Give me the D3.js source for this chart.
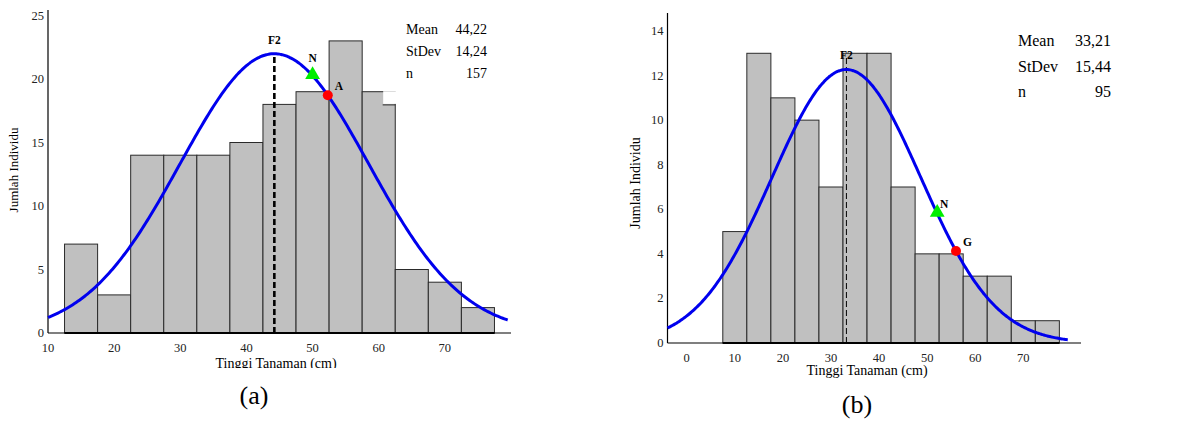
<!DOCTYPE html>
<html>
<head>
<meta charset="utf-8">
<script src="https://cdn.jsdelivr.net/npm/d3@7"></script>
<style>
  body { margin: 0; background: #fff; }
  svg { display: block; font-family: "Liberation Serif", "Times New Roman", serif; }
</style>
</head>
<body>
<svg id="chart" width="1192" height="422"></svg>
<script>
// panel (a)
var binsA = [15, 20, 25, 30, 35, 40, 45, 50, 55, 60, 65, 70, 75];
var countsA = [7, 3, 14, 14, 14, 15, 18, 19, 23, 19, 5, 4, 2];
var xTicksA = [10, 20, 30, 40, 50, 60, 70];
var yTicksA = [0, 5, 10, 15, 20, 25];
var statsA = [['Mean', '44,22'], ['StDev', '14,24'], ['n', '157']];
var markersA = [{ label: 'N', x: 50, shape: 'triangle' }, { label: 'A', x: 52.3, shape: 'circle' }];

// panel (b)
var binsB = [10, 15, 20, 25, 30, 35, 40, 45, 50, 55, 60, 65, 70, 75];
var countsB = [5, 13, 11, 10, 7, 13, 13, 7, 4, 4, 3, 3, 1, 1];
var xTicksB = [0, 10, 20, 30, 40, 50, 60, 70];
var yTicksB = [0, 2, 4, 6, 8, 10, 12, 14];
var statsB = [['Mean', '33,21'], ['StDev', '15,44'], ['n', '95']];
var markersB = [{ label: 'N', x: 52.1, shape: 'triangle' }, { label: 'G', x: 56, shape: 'circle' }];

var svg = d3.select('#chart');

function normal(x, mean, sd, n, w) {
    return n * w / (sd * Math.sqrt(2 * Math.PI)) * Math.exp(-(x - mean) * (x - mean) / (2 * sd * sd));
}

function drawPanel(p) {
    var g = svg.append('g');
    var x = d3.scaleLinear().domain(p.xDomain).range(p.xRange);
    var y = d3.scaleLinear().domain(p.yDomain).range(p.yRange);
    var bw = 5;
    var bars = p.bins.map(function (b, i) { return { x0: b - bw / 2, x1: b + bw / 2, c: p.counts[i] }; });

    g.selectAll('rect.bar').data(bars).enter().append('rect')
        .attr('class', 'bar')
        .attr('x', function (d) { return x(d.x0); })
        .attr('y', function (d) { return y(d.c); })
        .attr('width', function (d) { return x(d.x1) - x(d.x0); })
        .attr('height', function (d) { return y(0) - y(d.c); })
        .attr('fill', '#c0c0c0')
        .attr('stroke', '#2a2a2a')
        .attr('stroke-width', 1);

    if (p.notch) {
        g.append('rect')
            .attr('x', x(p.notch[0]) + 0.5).attr('y', y(p.notch[3]) - 0.5)
            .attr('width', x(p.notch[1]) - x(p.notch[0]) + 1)
            .attr('height', y(p.notch[2]) - y(p.notch[3]))
            .attr('fill', '#fff');
        g.append('line')
            .attr('x1', x(p.notch[0])).attr('x2', x(p.notch[1]))
            .attr('y1', y(p.notch[2]) + 0.5).attr('y2', y(p.notch[2]) + 0.5)
            .attr('stroke', '#2a2a2a');
    }

    // axes lines
    g.append('line')
        .attr('x1', x(p.xDomain[0])).attr('x2', x(p.xDomain[0]))
        .attr('y1', y(0)).attr('y2', p.axisTop)
        .attr('stroke', '#000').attr('stroke-width', 1.2);
    g.append('line')
        .attr('x1', x(p.xDomain[0])).attr('x2', x(p.xDomain[1]))
        .attr('y1', y(0)).attr('y2', y(0))
        .attr('stroke', '#000').attr('stroke-width', 1.2);
    g.append('line')
        .attr('x1', x(bars[0].x0)).attr('x2', x(bars[bars.length - 1].x1))
        .attr('y1', y(0)).attr('y2', y(0))
        .attr('stroke', '#000').attr('stroke-width', 2);

    // tick labels
    g.selectAll('text.xt').data(p.xTicks).enter().append('text')
        .attr('x', function (d) { return x(d); })
        .attr('y', y(0) + 19)
        .attr('text-anchor', 'middle')
        .attr('font-size', 12.5)
        .attr('fill', '#222')
        .text(function (d) { return d; });
    g.selectAll('text.yt').data(p.yTicks).enter().append('text')
        .attr('x', x(p.xDomain[0]) - 4)
        .attr('y', function (d) { return y(d) + 4; })
        .attr('text-anchor', 'end')
        .attr('font-size', 12.5)
        .attr('fill', '#222')
        .text(function (d) { return d; });

    // F2 line
    g.append('line')
        .attr('x1', x(p.mean)).attr('x2', x(p.mean))
        .attr('y1', y(0)).attr('y2', y(p.f2Top))
        .attr('stroke', '#000')
        .attr('stroke-width', p.f2Width)
        .attr('stroke-dasharray', p.f2Dash);
    g.append('text')
        .attr('x', x(p.mean)).attr('y', p.f2LabelY)
        .attr('text-anchor', 'middle')
        .attr('font-size', 11.5).attr('font-weight', 'bold')
        .text('F2');

    // normal curve
    var pts = d3.range(p.curve[0], p.curve[1] + 0.001, 0.25);
    var line = d3.line()
        .x(function (d) { return x(d); })
        .y(function (d) { return y(normal(d, p.mean, p.sd, p.n, bw)); })
        .curve(d3.curveBasis);
    g.append('path')
        .attr('d', line(pts))
        .attr('fill', 'none')
        .attr('stroke', '#0000ee')
        .attr('stroke-width', 3);

    // markers
    p.markers.forEach(function (m) {
        var mx = x(m.x), my = y(normal(m.x, p.mean, p.sd, p.n, bw));
        if (m.shape === 'triangle') {
            g.append('path')
                .attr('d', d3.symbol().type(d3.symbolTriangle).size(95)())
                .attr('transform', 'translate(' + mx + ',' + (my - 1) + ')')
                .attr('fill', '#00ee00');
            g.append('text')
                .attr('x', mx + p.nLabel[0]).attr('y', my + p.nLabel[1])
                .attr('text-anchor', 'middle')
                .attr('font-size', 11.5).attr('font-weight', 'bold')
                .text(m.label);
        } else {
            g.append('circle')
                .attr('cx', mx).attr('cy', my).attr('r', 5)
                .attr('fill', '#ff0000');
            g.append('text')
                .attr('x', mx + 7).attr('y', my - 5)
                .attr('font-size', 11.5).attr('font-weight', 'bold')
                .text(m.label);
        }
    });

    // stats box
    p.stats.forEach(function (s, i) {
        g.append('text')
            .attr('x', p.statX[0]).attr('y', p.statY + i * p.statStep)
            .attr('font-size', p.statSize)
            .text(s[0]);
        g.append('text')
            .attr('x', p.statX[1]).attr('y', p.statY + i * p.statStep)
            .attr('text-anchor', 'end')
            .attr('font-size', p.statSize)
            .text(s[1]);
    });

    // axis titles
    g.append('text')
        .attr('transform', 'translate(' + p.yTitle[0] + ',' + p.yTitle[1] + ') rotate(-90)')
        .attr('text-anchor', 'middle')
        .attr('font-size', p.yTitleSize)
        .text('Jumlah Individu');
    var xt = g.append('text')
        .attr('x', p.xTitle[0]).attr('y', p.xTitle[1])
        .attr('text-anchor', 'middle')
        .attr('font-size', p.xTitleSize)
        .text('Tinggi Tanaman (cm)');
    if (p.clipY) {
        g.append('clipPath').attr('id', 'clip' + p.id)
            .append('rect').attr('x', 0).attr('y', 0).attr('width', 1192).attr('height', p.clipY);
        xt.attr('clip-path', 'url(#clip' + p.id + ')');
    }

    g.append('text')
        .attr('x', p.caption[0]).attr('y', p.caption[1])
        .attr('text-anchor', 'middle')
        .attr('font-size', 26)
        .text(p.captionText);
}

drawPanel({
    id: 'a', bins: binsA, counts: countsA, xTicks: xTicksA, yTicks: yTicksA,
    xDomain: [10, 80], xRange: [48, 511], yDomain: [0, 25], yRange: [333, 15.5],
    axisTop: 10, mean: 44.22, sd: 14.24, n: 157, curve: [10, 79.5],
    f2Top: 22, f2Width: 2.6, f2Dash: '6,3', f2LabelY: 44,
    notch: [60.6, 62.5, 18, 19],
    markers: markersA, nLabel: [0, -14],
    stats: statsA, statX: [406, 487], statY: 34, statStep: 22, statSize: 14,
    yTitle: [18, 170], yTitleSize: 13, xTitle: [276, 368], xTitleSize: 14, clipY: 368,
    caption: [254, 404], captionText: '(a)'
});

drawPanel({
    id: 'b', bins: binsB, counts: countsB, xTicks: xTicksB, yTicks: yTicksB,
    xDomain: [-4, 82], xRange: [667.5, 1081], yDomain: [0, 14], yRange: [343, 31],
    axisTop: 13, mean: 33.21, sd: 15.44, n: 95, curve: [-4, 79.3],
    f2Top: 12.9, f2Width: 1, f2Dash: '6,3', f2LabelY: 59,
    markers: markersB, nLabel: [7, -6],
    stats: statsB, statX: [1018, 1111], statY: 46, statStep: 25.5, statSize: 16,
    yTitle: [640, 183], yTitleSize: 14, xTitle: [867, 375], xTitleSize: 14, clipY: null,
    caption: [857, 413], captionText: '(b)'
});
</script>
</body>
</html>
